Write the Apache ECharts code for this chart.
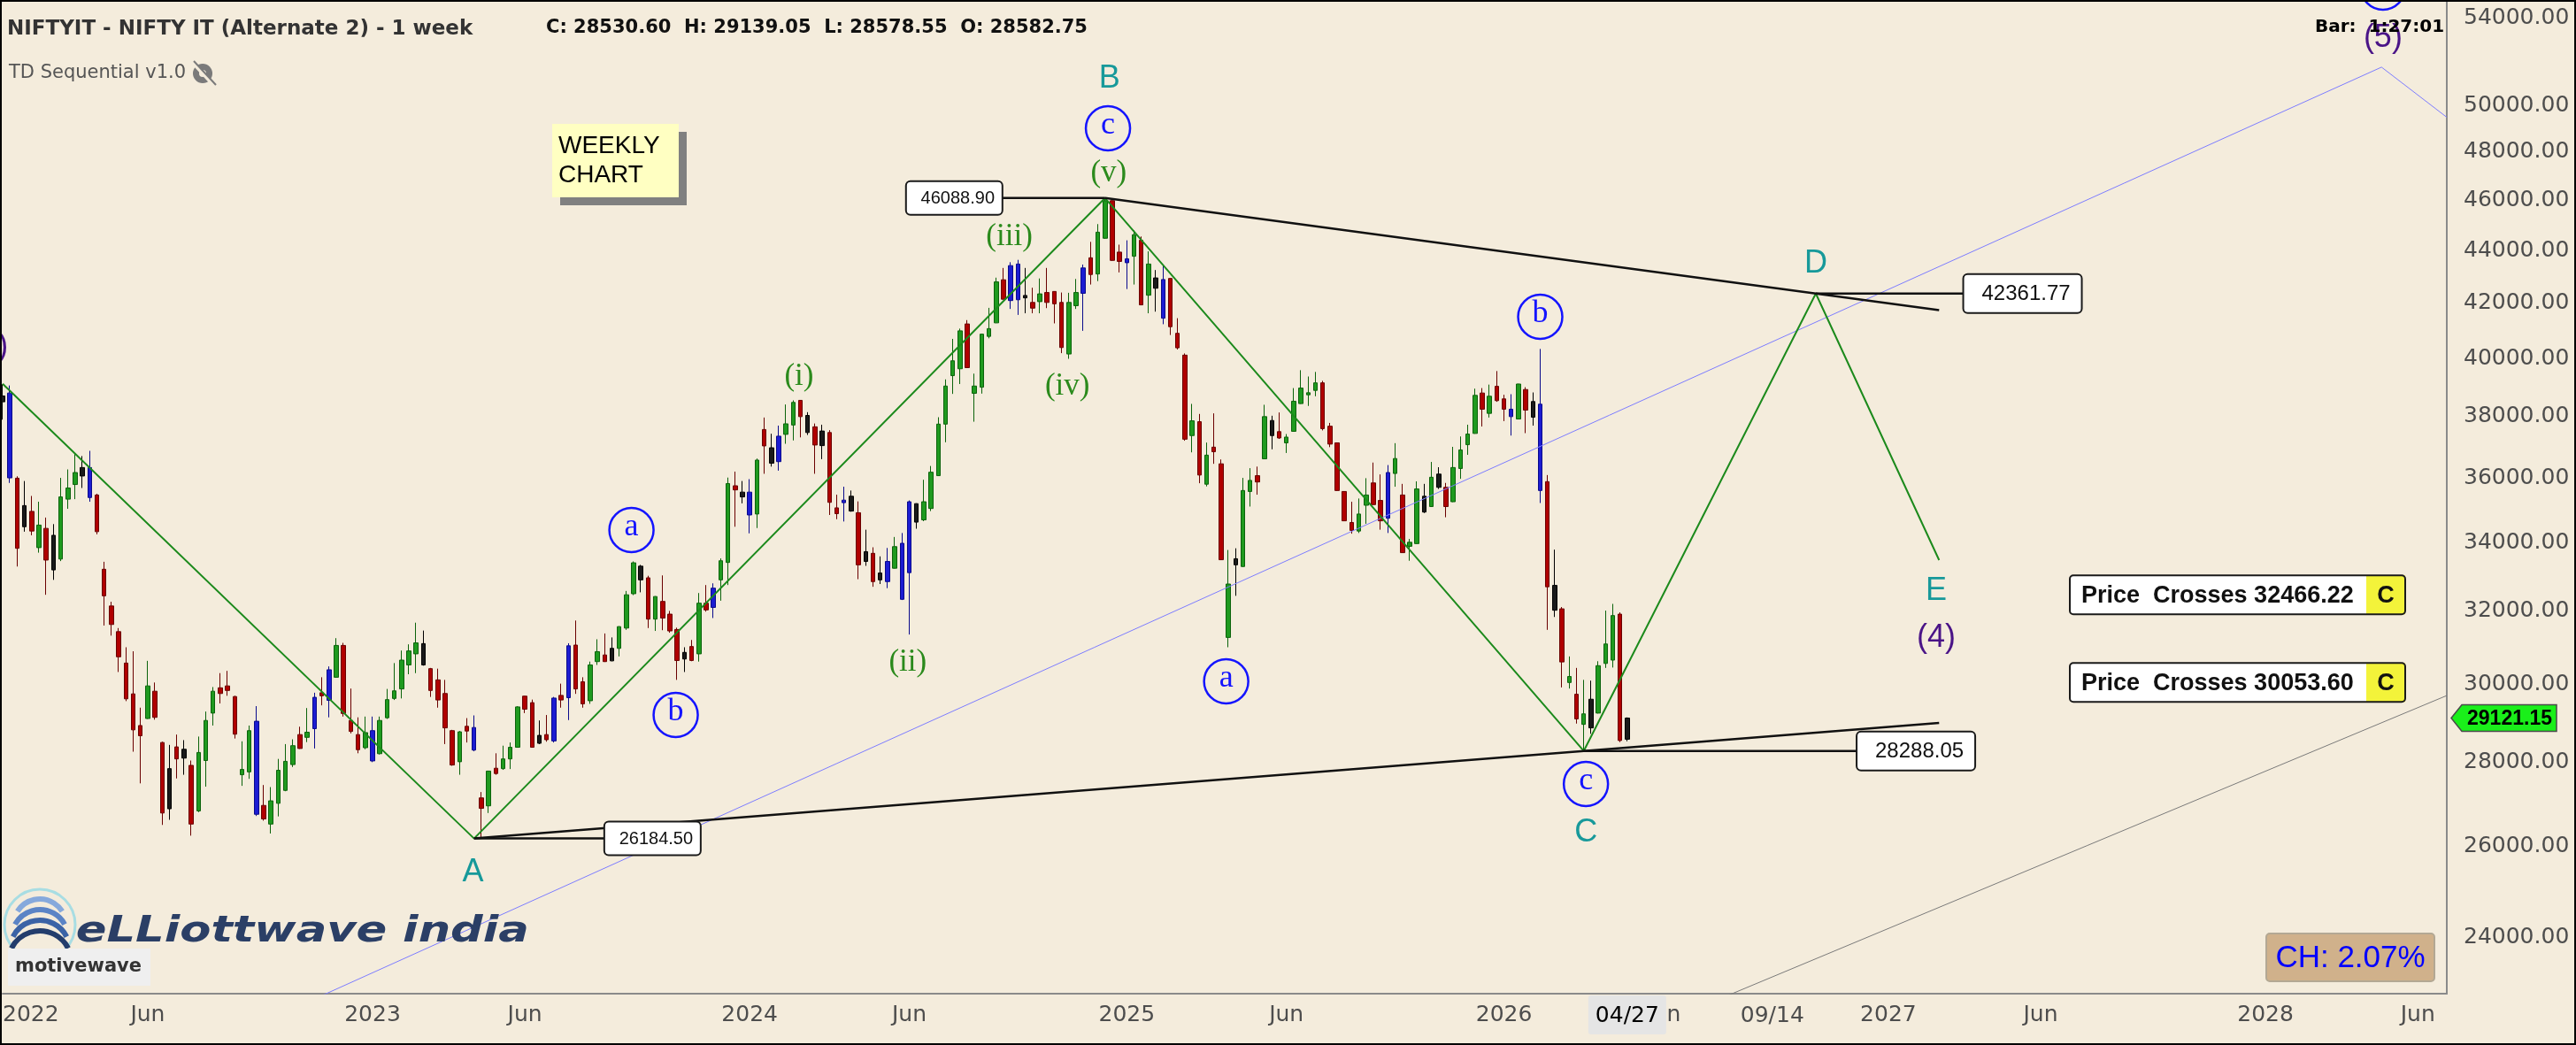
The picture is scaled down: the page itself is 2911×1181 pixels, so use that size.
<!DOCTYPE html>
<html>
<head>
<meta charset="utf-8">
<title>NIFTYIT weekly</title>
<script src="https://cdn.jsdelivr.net/npm/echarts@6/dist/echarts.min.js"></script>
<style>
html,body{margin:0;padding:0;background:#f4ecdc;overflow:hidden;}
#chart{width:2911px;height:1181px;}
</style>
</head>
<body>
<div id="chart"></div>
<script>
// ---------- weekly candles (week of 2022-01-10 ... 2026-04-27) ----------
const opens = [
38500,38800,35990,35130,34950,33850,34430,34220,33510,35330,
35790,36060,36330,35460,33210,32150,31430,30570,29750,28930,
29110,29820,28500,26880,28390,28110,27930,26830,28050,29250,
29910,29960,29680,27700,27770,29040,26960,26520,27010,27320,
27950,28700,28630,28850,29780,29580,30190,31050,29060,28700,
28370,28800,28220,29130,29630,29880,30520,30820,31100,30420,
30120,29760,28800,28020,28910,28880,27140,26950,27860,27850,
28090,28380,29690,29520,28480,28700,28540,29710,29650,31060,
30070,29570,30610,30790,30630,30970,31530,32500,33300,32960,
31780,32280,31920,31490,30680,31020,30820,32230,32110,32900,
33410,35750,35550,35550,34870,37570,36970,36520,37410,37720,
38550,38040,37660,37520,37470,35060,35220,35420,34910,33730,
33680,33100,32850,33240,33980,33110,34620,34690,35040,36070,
37750,39400,39640,41240,38790,39000,40790,41280,42880,42100,
43480,42290,42030,42060,42400,42440,42030,40160,41910,42370,
43720,43100,44480,45980,43940,43680,43780,44400,42300,42950,
42890,42930,40900,40120,37370,37830,35800,36990,36450,31270,
33520,33290,35570,36070,36610,37870,37500,37130,37510,38440,
38740,38890,39150,37680,37130,35570,34610,34350,35140,35840,
35290,34740,36140,35460,33890,33970,35420,35100,36120,35700,
35250,36300,37070,37440,38800,38110,39030,38600,38000,37920,
38920,38510,38420,35880,32740,32070,30050,29740,28960,29610,
29250,30560,30650,31920,28582.75];
const highs = [
39100,39060,36050,35900,35430,35250,34760,34560,36000,36270,
36780,36700,36870,35500,33430,32270,31530,31000,30890,29390,
30630,30050,28520,28440,28700,28560,28050,28650,29290,29930,
30300,30360,29700,28530,28930,29430,27450,27400,28090,28460,
28580,28900,29380,29780,30190,30480,31250,31120,29890,29140,
29160,29160,29160,29880,30570,30910,31080,31680,31460,30440,
30420,30120,28820,28790,29120,29190,27280,27800,28230,28420,
28500,29430,29700,29600,29060,29200,29670,30020,31110,31740,
30190,30610,31220,31380,31270,31580,32580,33440,33340,33020,
32430,33030,32010,31540,31000,31200,32520,32750,32800,33530,
36010,36200,35900,35960,36620,37970,37430,37700,38410,38550,
38560,38150,37770,37730,37550,35470,35720,35600,35260,34390,
33860,33590,33840,34170,34290,35290,35200,35940,36380,37980,
39270,40700,41070,41380,39470,40880,41830,42960,43330,43550,
43640,43330,42580,42930,43330,42450,42400,42390,42910,43460,
44340,45040,46088.9,46000,44230,44400,44790,44550,43970,43250,
43420,42940,41450,40180,38430,38090,37140,38110,36590,33780,
33830,36000,36310,36360,38400,38030,38140,37420,38970,39590,
39370,39530,39220,37790,37140,35580,35250,35350,35990,36490,
36110,36410,37120,35810,34110,35890,35810,36510,36340,35840,
37000,37340,37730,38950,38970,39090,39560,38740,38760,39120,
39000,38820,40340,36090,33790,32120,30750,30440,30120,30100,
30620,32020,32210,31970,29139.05];
const lows = [
37900,35840,33290,34330,34220,33700,32470,32900,33450,35030,
35330,35680,35250,34250,31600,31320,30330,29560,28270,27490,
29100,29080,26500,26620,27610,27700,26250,26800,27410,28930,
29500,29700,28600,27430,27600,26710,26600,26300,26700,27300,
27890,28340,28510,28350,29450,29140,30180,29160,28730,28230,
28330,28010,28200,29100,29590,29630,30270,30300,30500,29670,
29390,28460,27920,27700,28500,28280,26184.5,26780,27700,27820,
27840,28370,29250,28370,28460,28520,28500,29390,29070,29750,
29390,29490,30520,30600,30620,30750,31480,32460,32540,31530,
31450,31470,31400,30120,30330,30620,30610,31990,31810,32300,
32750,34480,35200,34280,34440,36130,36360,36230,37100,37210,
37310,37390,36130,36600,34840,34710,34640,34940,32920,33310,
32700,32780,32660,33230,32320,31350,34420,34650,34960,36060,
37150,38770,39110,39670,37830,38780,40720,41270,42140,41790,
41570,41630,41630,41630,41820,41260,40190,39990,41790,40990,
42700,42830,44460,43600,43160,42530,42700,41930,41630,41690,
41230,40840,40320,37200,36820,35830,35730,36450,33480,31000,
32440,33280,35100,35470,36600,36920,37260,36800,37500,38430,
38360,38690,37540,36990,35590,34650,34270,34290,34570,35150,
34390,34290,35720,33690,33460,33960,34900,35090,35650,34770,
35240,35970,36740,37430,37670,37970,38500,37850,37370,37910,
37450,37700,35210,31480,31840,29920,29890,28980,28288.05,28720,
29240,30440,30450,28510,28530.6];
const closes = [
38700,36000,33830,34480,34350,34530,33480,33190,35400,35680,
36170,36330,35380,34330,32440,31630,30740,29620,28820,28670,
29960,29140,26780,27850,28090,28330,26520,28250,29060,29820,
29760,29840,28710,27830,28800,26750,26640,27070,27810,28030,
28420,28350,28760,29660,29700,30390,31050,29240,28780,28320,
28750,28040,29060,29600,29830,30650,30900,31120,30520,29840,
29590,28870,27940,28770,28790,28310,26890,27790,27730,28090,
28380,29410,29350,28380,28680,28570,29640,29590,31040,29880,
29490,30520,30880,30610,30970,31570,32470,33400,32900,31780,
32420,31810,31450,30640,30860,30640,32230,32040,32660,33460,
35820,35620,35400,34840,36570,37030,36470,37350,37760,38480,
38000,37470,37060,37040,35230,34880,35300,34960,33340,33440,
32850,32900,33440,33880,32340,35250,35190,35250,36180,37750,
39040,39920,40990,39680,39040,40870,41070,42800,42150,43420,
42130,42200,41820,42350,42030,41980,40390,42030,42400,43330,
43080,44720,45980,43620,43580,43530,44620,41940,43480,42560,
41450,41140,40380,37250,37860,36090,36730,36840,33490,32780,
33340,35600,35920,35870,38000,37370,37290,37320,38520,38970,
38810,39150,37600,37090,35600,34660,34370,34870,35460,35160,
34660,36170,36620,33700,34010,35650,34930,36020,35700,35100,
36330,36900,37420,38720,38250,38690,38540,38250,38250,39110,
38220,37980,35600,32700,32030,30600,30210,29100,29230,28870,
30500,31090,31880,28550,29121.15];
// candle colouring of the reference (g green, r red, b blue, k black)
const candleTones = ("kbrkrgrkgg" + "gkbrrrrrrr" + "grrkrkrggg" + "rrrggbrggg" + "grgbrbgrrr" +
  "gbggggggkr" + "rrrgrbrgrg" + "ggrrkrbrbr" + "rggrkgggkr" + "grrrkrgrbg" +
  "grkbgrkbgg" + "rkrkrrbkrk" + "rkbgbbkggg" + "gggrggggrb" + "bkrgrrrggb" +
  "rggrrbgrgk" + "brrrgrgrrg" + "kggrgkrggg" + "ggrrrrrggr" + "rbgrggkgkr" +
  "ggggrgrrbg" + "rkbrkrgrgk" + "gggrk").split('');

// ---------- wave structure (category index, value) ----------
const wavePath    = [[0,39117],[65,26184.5],[152,46088.9],[218,28288.05],[250,42361.77],[267,33480]];
const upperTrend  = [[152,46088.9],[250,42361.77],[267,41747]];
const lowerTrend  = [[65,26184.5],[218,28288.05],[267,28998]];
const channelLine = [[38,22401],[328,51733],[337,49495]];
const baseLine    = [[230,22322],[337,29706]];
const pivotLinks  = [
  [[131,46088.9],[152,46088.9]],
  [[65,26184.5],[89,26184.5]],
  [[218,28288.05],[263,28288.05]],
  [[250,42361.77],[278,42361.77]]
];

// ---------- wave labels ----------
const waveText = ['A','B','C','D','E','(i)','(ii)','(iii)','(iv)','(v)','a','b','c','a','b','c','(3)','(4)','(5)','c'];
const waveIdx  = [64.86,152.6,218.3,250.0,266.6,109.8,124.8,138.8,146.8,152.5,86.7,92.8,152.4,168.7,212.0,218.3,-1.93,266.6,328.2,328.2];
const waveVal  = [25412,51207,26321,43494,32577,39357,30580,44526,39019,47100,34381,29202,49017,30082,41503,27476,40416,31256,53082,55497];
const waveKind = ['cap','cap','cap','cap','cap','rom','rom','rom','rom','rom','circ','circ','circ','circ','circ','circ','deg','deg','deg','circ'];

// ---------- price boxes ----------
const pivotText = ['46088.90','26184.50','28288.05','42361.77'];
const pivotIdx  = [131.2, 89.6, 263.8, 278.5];
const pivotVal  = [46088.9, 26184.5, 28288.05, 42361.77];
const pivotSize = ['s','s','l','l'];

const alertVals = [32466.22, 30053.60];
const alertText = ['Price  Crosses 32466.22', 'Price  Crosses 30053.60'];
const lastPrice = 29121.15;

const yTicks = [24000,26000,28000,30000,32000,34000,36000,38000,40000,42000,44000,46000,48000,50000,54000];
const yMin = 22832, yMax = 54893;

const markerIdx  = [224, 244];
const markerText = ['04/27', '09/14'];

// ---------- weekly category axis ----------
const weekStart = Date.UTC(2022, 0, 10);
const weekCount = 338;
const categories = Array.from({length: weekCount}, (_, i) => new Date(weekStart + i * 7 * 864e5).toISOString().slice(0, 10));
const xLabelText = categories.map((c, i) => {
  if (i === 0) return '2022';
  const d = new Date(c + 'T00:00:00Z');
  for (let k = -3; k <= 3; k++) {
    const t = new Date(d.getTime() + k * 864e5);
    if (t.getUTCDate() === 1) {
      if (t.getUTCMonth() === 0) return String(t.getUTCFullYear());
      if (t.getUTCMonth() === 5) return 'Jun';
    }
  }
  return null;
});

const toneStyle = {
  g: {color:'#1f9a1f', color0:'#1f9a1f', borderColor:'#0b630b', borderColor0:'#0b630b'},
  r: {color:'#b00000', color0:'#b00000', borderColor:'#6a0000', borderColor0:'#6a0000'},
  b: {color:'#1c1cd2', color0:'#1c1cd2', borderColor:'#0a0a8c', borderColor0:'#0a0a8c'},
  k: {color:'#1a1a1a', color0:'#1a1a1a', borderColor:'#000000', borderColor0:'#000000'}
};
const candleData = opens.map((o, i) => ({
  value: [o, closes[i], lows[i], highs[i]],
  itemStyle: toneStyle[candleTones[i]]
}));

function fx(api, f, v) {
  const p0 = api.coord([0, v]), p1 = api.coord([1, v]);
  return [p0[0] + f * (p1[0] - p0[0]), p0[1]];
}
function txt(text, x, y, font, fill, align, valign) {
  return {type:'text', style:{text, x, y, font, fill, align: align || 'center', verticalAlign: valign || 'middle', textAlign: align || 'center', textVerticalAlign: valign || 'middle'}};
}

const labelStyles = {
  cap:  {font:"36px 'Liberation Sans'", fill:'#17999a'},
  rom:  {font:"35px 'Liberation Serif'", fill:'#2b8a1c'},
  circ: {font:"36px 'Liberation Serif'", fill:'#1414ff'},
  deg:  {font:"36px 'Liberation Sans'", fill:'#4a1487'}
};

function lineSeries(pts, color, width, z) {
  return {type:'line', data: pts, symbol:'none', silent:true, animation:false, clip:true, z: z || 3,
    lineStyle:{color, width}};
}

const series = [
  {
    type:'candlestick', data: candleData, barWidth: 5, z: 2, animation:false, silent:true,
    itemStyle:{borderWidth:1}
  },
  lineSeries(baseLine, '#7a7a7a', 1),
  lineSeries(channelLine, '#7c7cff', 1),
  lineSeries(wavePath, '#1c8a1c', 2),
  lineSeries(upperTrend, '#111111', 2.5),
  lineSeries(lowerTrend, '#111111', 2.5)
].concat(pivotLinks.map(p => lineSeries(p, '#111111', 2.5)));

// wave labels
series.push({
  type:'custom', z: 6, clip:false, silent:true, animation:false,
  data: waveVal.map(v => [0, v]),
  renderItem: (params, api) => {
    const i = params.dataIndex;
    const p = fx(api, waveIdx[i], waveVal[i]);
    const st = labelStyles[waveKind[i]];
    const kids = [];
    if (waveKind[i] === 'circ') {
      kids.push({type:'circle', shape:{cx:p[0], cy:p[1], r:25}, style:{fill:'none', stroke:'#1414ff', lineWidth:2.5}});
      kids.push(txt(waveText[i], p[0], p[1] - 3, st.font, st.fill));
    } else {
      kids.push(txt(waveText[i], p[0], p[1], st.font, st.fill));
    }
    return {type:'group', children: kids};
  }
});

// pivot value boxes
series.push({
  type:'custom', z: 7, clip:false, silent:true, animation:false,
  data: pivotVal.map(v => [0, v]),
  renderItem: (params, api) => {
    const i = params.dataIndex;
    const p = fx(api, pivotIdx[i], pivotVal[i]);
    const big = pivotSize[i] === 'l';
    const w = big ? 134 : 109, h = big ? 44 : 38;
    return {type:'group', children:[
      {type:'rect', shape:{x:p[0]-w/2, y:p[1]-h/2, width:w, height:h, r:5}, style:{fill:'#ffffff', stroke:'#1a1a1a', lineWidth:2}},
      txt(pivotText[i], p[0] + 4, p[1] + 1, (big ? 24 : 20) + "px 'Liberation Sans'", '#111111')
    ]};
  }
});

// price alerts + last price tag
series.push({
  type:'custom', z: 7, clip:false, silent:true, animation:false,
  data: alertVals.map(v => [0, v]).concat([[0, lastPrice]]),
  renderItem: (params, api) => {
    const i = params.dataIndex;
    if (i < alertVals.length) {
      const p = api.coord([weekCount - 1, alertVals[i]]);
      const L = p[0] - 426, y = p[1];
      return {type:'group', children:[
        {type:'rect', shape:{x:L, y:y-22, width:379, height:44, r:4}, style:{fill:'#ffffff', stroke:'none'}},
        {type:'rect', shape:{x:L+335, y:y-22, width:44, height:44}, style:{fill:'#f3f33a', stroke:'none'}},
        {type:'rect', shape:{x:L, y:y-22, width:379, height:44, r:4}, style:{fill:'none', stroke:'#1a1a1a', lineWidth:2}},
        txt(alertText[i], L + 13, y + 1, "bold 27px 'Liberation Sans'", '#111111', 'left'),
        txt('C', L + 357, y + 1, "bold 27px 'Liberation Sans'", '#111111')
      ]};
    }
    const q = api.coord([weekCount - 1, lastPrice]);
    const x0 = q[0] + 5, y0 = q[1];
    return {type:'group', children:[
      {type:'polygon', shape:{points:[[x0, y0],[x0+12, y0-15],[x0+119, y0-15],[x0+119, y0+15],[x0+12, y0+15]]},
        style:{fill:'#1aef1a', stroke:'#4a4a4a', lineWidth:1.5}},
      txt(String(lastPrice.toFixed(2)), x0 + 66, y0 + 1, "bold 23px 'Liberation Sans'", '#000000')
    ]};
  }
});

// y tick labels
series.push({
  type:'custom', z: 5, clip:false, silent:true, animation:false,
  data: yTicks.map(v => [0, v]),
  renderItem: (params, api) => {
    const v = yTicks[params.dataIndex];
    const p = api.coord([weekCount - 1, v]);
    return txt(v.toFixed(2), p[0] + 19, p[1], "25px 'DejaVu Sans'", '#4d4d4d', 'left');
  }
});

// time-axis markers
series.push({
  type:'custom', z: 8, clip:false, silent:true, animation:false,
  data: markerIdx.map(i => [i, yMin]),
  renderItem: (params, api) => {
    const i = params.dataIndex;
    const p = api.coord([markerIdx[i], yMin]);
    if (i === 0) {
      return {type:'group', children:[
        {type:'rect', shape:{x:p[0]-44, y:p[1]+2, width:88, height:44, r:3}, style:{fill:'#e5e5e5'}},
        txt(markerText[i], p[0], p[1] + 25, "25px 'DejaVu Sans'", '#000000')
      ]};
    }
    return txt(markerText[i], p[0], p[1] + 25, "25px 'DejaVu Sans'", '#4d4d4d');
  }
});

const bg = '#f4ecdc';
const graphics = [
  {type:'text', x:8, y:33, z:10, style:{text:'NIFTYIT - NIFTY IT (Alternate 2) - 1 week', font:"bold 23px 'DejaVu Sans'", fill:'#333333', textVerticalAlign:'middle', verticalAlign:'middle'}},
  {type:'text', x:617, y:32, z:10, style:{text:'C: 28530.60  H: 29139.05  L: 28578.55  O: 28582.75', font:"bold 21px 'DejaVu Sans'", fill:'#111111', textVerticalAlign:'middle', verticalAlign:'middle'}},
  {type:'text', x:10, y:83, z:10, style:{text:'TD Sequential v1.0', font:"21px 'DejaVu Sans'", fill:'#555555', textVerticalAlign:'middle', verticalAlign:'middle'}},
  {type:'circle', z:10, shape:{cx:229, cy:83, r:11}, style:{fill:'#7a7a7a'}},
  {type:'circle', z:11, shape:{cx:229, cy:83, r:4}, style:{fill:bg}},
  {type:'line', z:12, shape:{x1:217, y1:70, x2:242, y2:97}, style:{stroke:bg, lineWidth:4}},
  {type:'line', z:13, shape:{x1:219, y1:69, x2:244, y2:96}, style:{stroke:'#7a7a7a', lineWidth:2}},
  // weekly chart note
  {type:'rect', z:10, shape:{x:633, y:149, width:143, height:83}, style:{fill:'#808080'}},
  {type:'rect', z:11, shape:{x:624, y:140, width:143, height:83}, style:{fill:'#ffffc2'}},
  {type:'text', x:631, y:165, z:12, style:{text:'WEEKLY', font:"28px 'Liberation Sans'", fill:'#000000', textVerticalAlign:'middle', verticalAlign:'middle'}},
  {type:'text', x:631, y:198, z:12, style:{text:'CHART', font:"28px 'Liberation Sans'", fill:'#000000', textVerticalAlign:'middle', verticalAlign:'middle'}},
  // bar timer
  {type:'text', x:2616, y:31, z:9, style:{text:'Bar:  1:27:01', font:"bold 20px 'DejaVu Sans'", fill:'#000000', textVerticalAlign:'middle', verticalAlign:'middle'}},
  // logo
  {type:'circle', z:10, shape:{cx:45, cy:1045, r:40}, style:{fill:'none', stroke:'#a8dde3', lineWidth:3}},
  {type:'arc', z:11, shape:{cx:45, cy:1046, r:30, startAngle:Math.PI*1.18, endAngle:Math.PI*1.82}, style:{stroke:'#86a9dc', lineWidth:6, fill:'none'}},
  {type:'arc', z:11, shape:{cx:45, cy:1060, r:32, startAngle:Math.PI*1.16, endAngle:Math.PI*1.84}, style:{stroke:'#5b84c6', lineWidth:6, fill:'none'}},
  {type:'arc', z:11, shape:{cx:45, cy:1074, r:34, startAngle:Math.PI*1.15, endAngle:Math.PI*1.85}, style:{stroke:'#3b63a6', lineWidth:6, fill:'none'}},
  {type:'arc', z:11, shape:{cx:45, cy:1088, r:36, startAngle:Math.PI*1.15, endAngle:Math.PI*1.85}, style:{stroke:'#233d6c', lineWidth:6, fill:'none'}},
  {type:'text', x:119, y:1054, z:11, scaleX:1.28, originX:119, originY:1054, style:{text:'eLLiottwave india', font:"italic bold 40px 'DejaVu Sans'", fill:'#2b3f66', textVerticalAlign:'middle', verticalAlign:'middle'}},
  {type:'rect', z:12, shape:{x:9, y:1072, width:161, height:42}, style:{fill:'#efefef'}},
  {type:'text', x:17, y:1093, z:13, style:{text:'motivewave', font:"bold 21px 'DejaVu Sans'", fill:'#333333', textVerticalAlign:'middle', verticalAlign:'middle'}},
  // CH box
  {type:'rect', z:10, shape:{x:2561, y:1055, width:190, height:54, r:4}, style:{fill:'#d0b18b', stroke:'#b3a894', lineWidth:2}},
  {type:'text', x:2656, y:1083, z:11, style:{text:'CH: 2.07%', font:"35px 'Liberation Sans'", fill:'#0000ff', textAlign:'center', align:'center', textVerticalAlign:'middle', verticalAlign:'middle'}},
  // outer frame
  {type:'rect', z:50, shape:{x:1, y:1, width:2909, height:1179}, style:{fill:'none', stroke:'#000000', lineWidth:2}}
];

const chart = echarts.init(document.getElementById('chart'), null, {renderer:'canvas', width:2911, height:1181});
chart.setOption({
  backgroundColor: bg,
  animation: false,
  grid: {left: 0.8, right: 146, top: 0, bottom: 58, containLabel: false},
  xAxis: {
    type:'category', data: categories, boundaryGap:false,
    axisLine:{show:true, lineStyle:{color:'#8a8a8a', width:2}},
    axisTick:{show:false}, splitLine:{show:false},
    axisLabel:{
      interval: (i) => xLabelText[i] !== null,
      formatter: (v, i) => xLabelText[i] || '',
      color:'#4d4d4d', fontSize:25, fontFamily:'DejaVu Sans', margin:12,
      showMinLabel:true, showMaxLabel:true, alignMinLabel:'left'
    }
  },
  yAxis: {
    type:'log', logBase:10, min:yMin, max:yMax, position:'right',
    axisLine:{show:true, lineStyle:{color:'#8a8a8a', width:2}},
    axisTick:{show:false}, splitLine:{show:false}, axisLabel:{show:false}
  },
  graphic: graphics,
  series: series
});
</script>
</body>
</html>
